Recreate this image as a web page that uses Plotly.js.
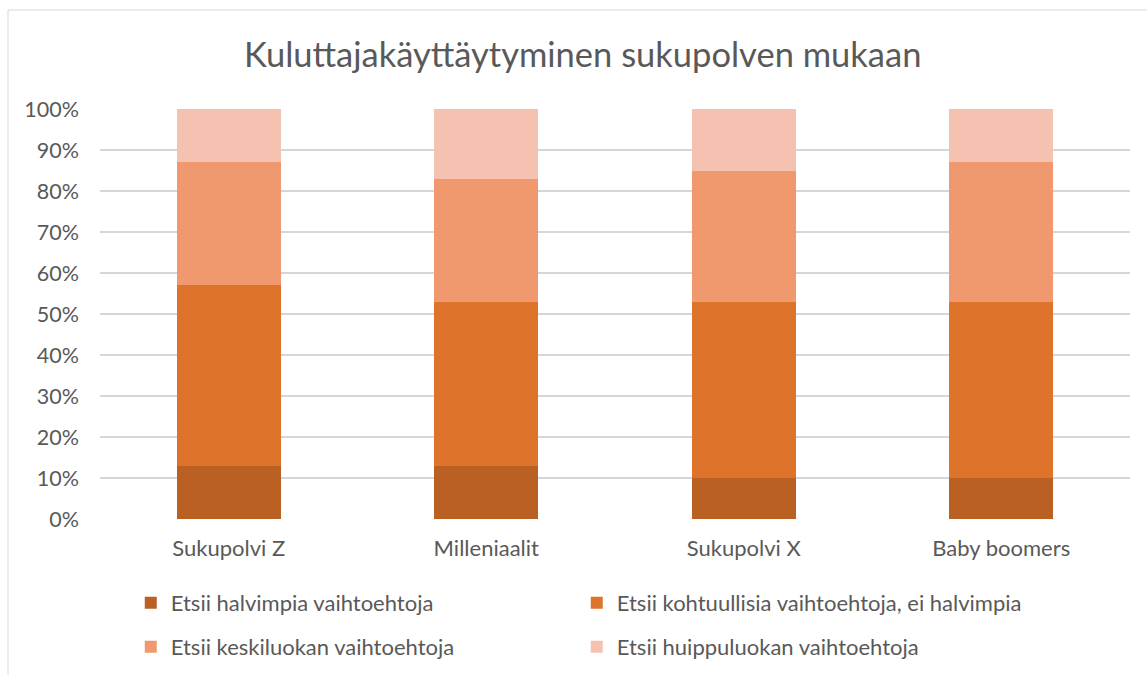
<!DOCTYPE html>
<html>
<head>
<meta charset="utf-8">
<script src="https://cdn.plot.ly/plotly-3.0.1.min.js"></script>
<style>html,body{margin:0;padding:0;background:#fff;}#chart{width:1147px;height:675px;}</style>
</head>
<body>
<div id="chart"></div>
<script>
const categories = ["Sukupolvi Z", "Milleniaalit", "Sukupolvi X", "Baby boomers"];
const seriesNames = [
  "Etsii halvimpia vaihtoehtoja",
  "Etsii kohtuullisia vaihtoehtoja, ei halvimpia",
  "Etsii keskiluokan vaihtoehtoja",
  "Etsii huippuluokan vaihtoehtoja"
];
const halvimpia = [13, 13, 10, 10];
const kohtuullisia = [44, 40, 43, 43];
const keskiluokka = [30, 30, 32, 34];
const huippuluokka = [13, 17, 15, 13];
const yTickVals = [0, 10, 20, 30, 40, 50, 60, 70, 80, 90, 100];
const yTickText = ["0%", "10%", "20%", "30%", "40%", "50%", "60%", "70%", "80%", "90%", "100%"];
const colors = ["#BA6023", "#DE742C", "#F0996F", "#F5C2B1"];

const seriesValues = [halvimpia, kohtuullisia, keskiluokka, huippuluokka];
const legendIds = ["legend", "legend", "legend2", "legend2"];
const traces = seriesValues.map((vals, i) => ({
  type: "bar",
  x: categories,
  y: vals,
  name: seriesNames[i],
  marker: {color: colors[i], line: {width: 0}},
  legend: legendIds[i],
  hoverinfo: "skip"
}));

const font = "Lato, 'Open Sans', sans-serif";
const legendCommon = {
  orientation: "h",
  traceorder: "normal",
  xref: "container", yref: "container",
  xanchor: "left", yanchor: "middle",
  entrywidth: 401, entrywidthmode: "pixels",
  font: {family: font, size: 22, color: "#595959"},
  bgcolor: "rgba(0,0,0,0)",
  itemclick: false, itemdoubleclick: false
};

const layout = {
  width: 1147, height: 675,
  margin: {l: 100, r: 17, t: 109, b: 156},
  paper_bgcolor: "#ffffff",
  plot_bgcolor: "#ffffff",
  barmode: "stack",
  bargap: 0.596,
  showlegend: true,
  title: {
    text: "Kuluttajakäyttäytyminen sukupolven mukaan",
    font: {family: font, size: 34.5, color: "#595959"},
    x: 0.508, xanchor: "center",
    y: 0.918, yanchor: "middle", yref: "container"
  },
  xaxis: {
    type: "category",
    showgrid: false, zeroline: false, showline: false,
    ticks: "",
    ticklabelstandoff: 14,
    tickfont: {family: font, size: 22, color: "#595959"}
  },
  yaxis: {
    range: [0, 100],
    tickvals: yTickVals, ticktext: yTickText,
    showgrid: true, gridcolor: "#d6d6d6", gridwidth: 1.3,
    zeroline: false, showline: false, ticks: "",
    ticklabelstandoff: 20,
    tickfont: {family: font, size: 21.5, color: "#595959"}
  },
  legend: Object.assign({}, legendCommon, {x: 0.114, y: 0.1067}),
  legend2: Object.assign({}, legendCommon, {x: 0.114, y: 0.0415}),
  shapes: [{
    type: "rect", xref: "paper", yref: "paper",
    x0: -0.0893, x1: 1.02, y0: -0.4, y1: 1.2415,
    line: {color: "#d9d9d9", width: 1},
    fillcolor: "rgba(0,0,0,0)",
    layer: "below"
  }]
};

Plotly.newPlot("chart", traces, layout, {displayModeBar: false, staticPlot: true});
</script>
</body>
</html>
